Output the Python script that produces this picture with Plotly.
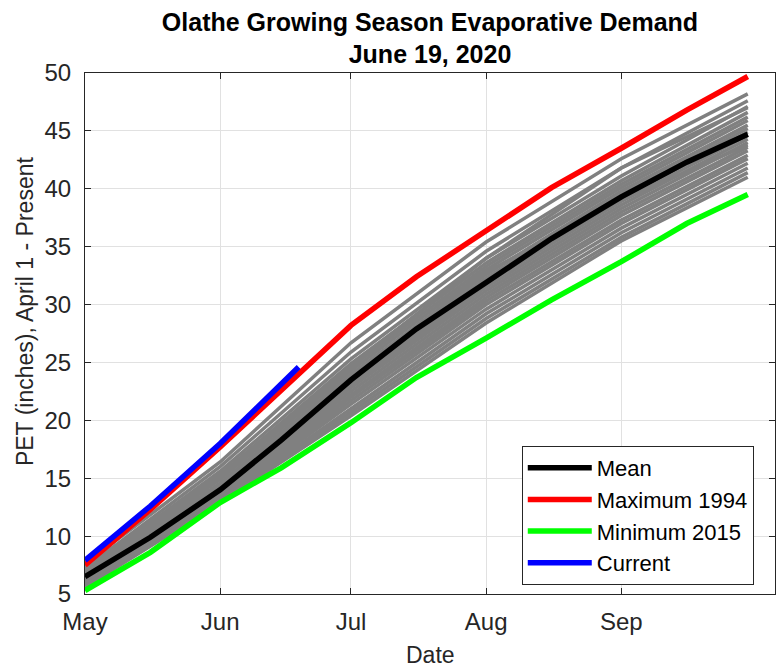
import plotly.graph_objects as go

# ---- data ----
dates = ["2020-05-01", "2020-05-16", "2020-06-01", "2020-06-15", "2020-07-01", "2020-07-16",
         "2020-08-01", "2020-08-16", "2020-09-01", "2020-09-16", "2020-09-30"]
mean_pet = [6.5, 9.9, 14.0, 18.3, 23.5, 27.9, 31.9, 35.7, 39.3, 42.3, 44.7]
max_1994 = [7.5, 12.3, 17.7, 22.6, 28.2, 32.4, 36.4, 40.1, 43.5, 46.8, 49.7]
min_2015 = [5.3, 8.6, 12.9, 15.9, 19.8, 23.7, 27.1, 30.4, 33.7, 37.0, 39.5]

current_dates = ["2020-05-01", "2020-05-16", "2020-06-01", "2020-06-15", "2020-06-19"]
current_2020 = [7.9, 12.6, 18.0, 23.1, 24.6]

gray_dates = ["2020-05-01", "2020-06-01", "2020-07-01", "2020-08-01", "2020-09-01", "2020-09-30"]
gray_years = [
    [7.6, 16.4, 26.7, 35.4, 42.6, 48.2],
    [7.2, 16.0, 25.9, 34.6, 41.8, 47.6],
    [7.0, 15.6, 25.3, 34.0, 41.1, 47.1],
    [6.9, 15.3, 24.9, 33.6, 40.7, 46.6],
    [6.8, 15.0, 24.6, 33.3, 40.4, 46.2],
    [6.7, 14.9, 24.3, 33.0, 40.1, 45.9],
    [6.6, 14.6, 24.0, 32.6, 39.8, 45.5],
    [6.5, 14.4, 23.7, 32.3, 39.5, 45.2],
    [6.4, 14.3, 23.5, 32.0, 39.2, 44.9],
    [6.6, 14.0, 23.2, 31.8, 38.9, 44.6],
    [6.3, 14.1, 23.0, 31.5, 38.6, 44.3],
    [6.2, 13.8, 22.8, 31.2, 38.3, 44.0],
    [6.1, 13.7, 22.5, 30.9, 38.0, 43.6],
    [6.3, 13.5, 22.2, 30.6, 37.7, 43.3],
    [6.0, 13.4, 22.0, 30.3, 37.3, 42.9],
    [5.9, 13.3, 21.7, 30.0, 37.0, 42.6],
    [5.8, 13.2, 21.4, 29.6, 36.6, 42.2],
    [5.9, 13.1, 21.0, 29.2, 36.2, 41.8],
    [5.7, 13.0, 20.7, 28.8, 35.8, 41.4],
    [5.6, 12.9, 20.4, 28.4, 35.5, 41.0],
    [7.4, 15.2, 24.6, 34.0, 41.8, 47.0],
    [6.5, 13.6, 23.8, 32.8, 39.0, 43.8],
]

month_ticks = ["2020-05-01", "2020-06-01", "2020-07-01", "2020-08-01", "2020-09-01"]
month_labels = ["May", "Jun", "Jul", "Aug", "Sep"]
y_ticks = [5, 10, 15, 20, 25, 30, 35, 40, 45, 50]

FONT = "Liberation Sans, Arial, Helvetica, sans-serif"
TXT = "#262626"

fig = go.Figure()
for vals in gray_years:
    fig.add_trace(go.Scatter(x=gray_dates, y=vals, mode="lines",
                             line=dict(color="rgb(128,128,128)", width=3.5),
                             showlegend=False, hoverinfo="skip"))

fig.add_trace(go.Scatter(x=dates, y=max_1994, mode="lines", name="Maximum 1994",
                         line=dict(color="rgb(255,0,0)", width=5.5), legendrank=2))
fig.add_trace(go.Scatter(x=dates, y=min_2015, mode="lines", name="Minimum 2015",
                         line=dict(color="rgb(0,255,0)", width=5.5), legendrank=3))
fig.add_trace(go.Scatter(x=dates, y=mean_pet, mode="lines", name="Mean",
                         line=dict(color="rgb(0,0,0)", width=5.5), legendrank=1))
fig.add_trace(go.Scatter(x=current_dates, y=current_2020, mode="lines", name="Current",
                         line=dict(color="rgb(0,0,255)", width=5.5), legendrank=4))

fig.update_layout(
    width=776, height=671,
    margin=dict(l=85, r=1, t=73, b=77),
    paper_bgcolor="white", plot_bgcolor="white",
    font=dict(family=FONT, size=24, color=TXT),
    title=dict(text="<b>Olathe Growing Season Evaporative Demand</b><br><b>June 19, 2020</b>",
               xref="paper", x=0.5, xanchor="center",
               yref="container", y=0.954, yanchor="top",
               font=dict(family=FONT, size=25, color="black")),
    legend=dict(x=0.633, y=0.284, xanchor="left", yanchor="top",
                bgcolor="white", bordercolor=TXT, borderwidth=1,
                font=dict(family=FONT, size=22, color="black"),
                itemwidth=64, tracegroupgap=0),
    showlegend=True,
    annotations=[
        dict(text="PET (inches), April 1 - Present", xref="paper", yref="paper",
             x=-0.087, y=0.543, xanchor="center", yanchor="middle", textangle=-90,
             showarrow=False, font=dict(family=FONT, size=23, color=TXT)),
        dict(text="Date", xref="paper", yref="paper",
             x=0.5, y=-0.117, xanchor="center", yanchor="middle",
             showarrow=False, font=dict(family=FONT, size=23, color=TXT)),
    ],
)
fig.update_xaxes(
    range=["2020-05-01", "2020-10-06 06:00"], tickvals=month_ticks, ticktext=month_labels,
    showgrid=True, gridcolor="rgb(225,225,225)", gridwidth=1,
    showline=True, linecolor=TXT, linewidth=1, mirror="ticks",
    ticks="inside", ticklen=6, tickcolor=TXT, ticklabelstandoff=6,
    tickfont=dict(size=24), zeroline=False, automargin=False,
)
fig.update_yaxes(
    range=[5, 50], tickvals=y_ticks,
    showgrid=True, gridcolor="rgb(225,225,225)", gridwidth=1,
    showline=True, linecolor=TXT, linewidth=1, mirror="ticks",
    ticks="inside", ticklen=6, tickcolor=TXT, ticklabelstandoff=8,
    tickfont=dict(size=24), zeroline=False, automargin=False,
)

fig.write_html(
    "out.html",
    config={"displayModeBar": False},
    post_script=(
        "document.body.style.margin='0';"
        "document.body.style.overflow='hidden';"
        "var gd=document.getElementById('{plot_id}');"
        "Plotly.relayout(gd,{width:776,height:671});"
    ),
)
